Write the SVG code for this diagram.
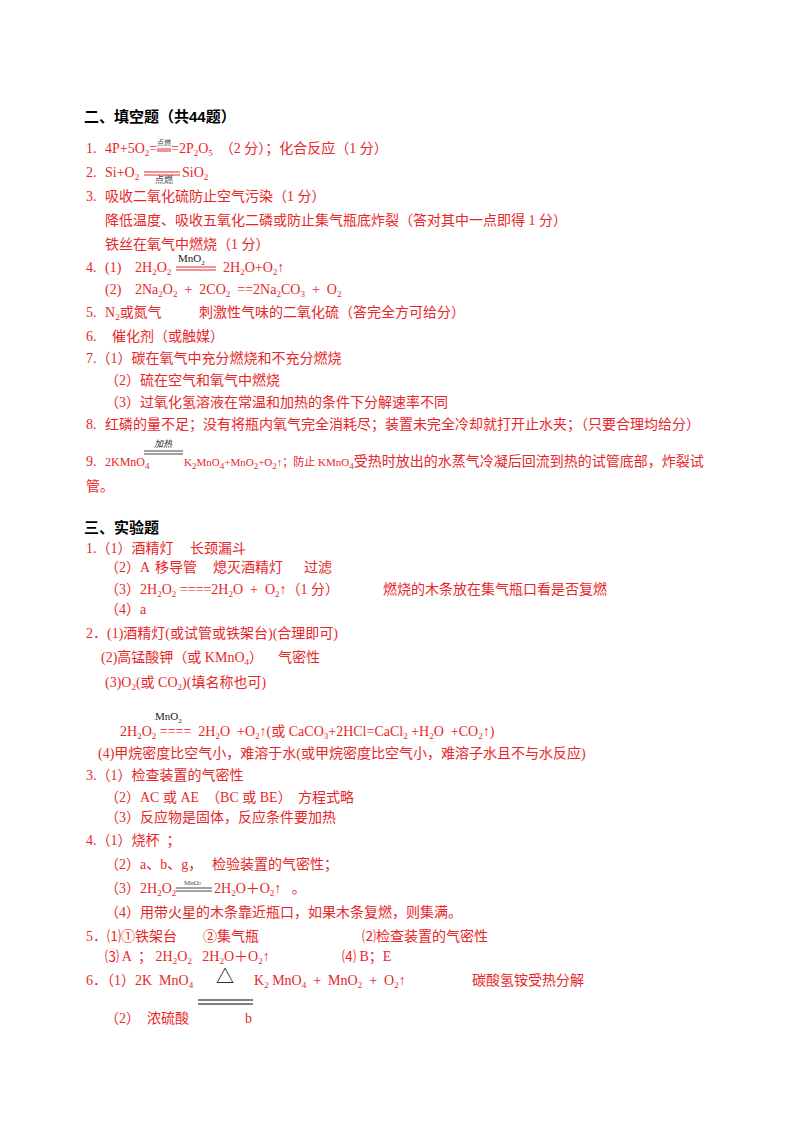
<svg xmlns="http://www.w3.org/2000/svg" width="800" height="1132" viewBox="0 0 800 1132" xml:space="preserve">
<style>
text{font-family:"Liberation Serif","Noto Sans CJK SC",serif;font-size:14px;fill:#e8262a;white-space:pre}
.h{font-family:"Liberation Sans","Noto Sans CJK SC",sans-serif;font-weight:bold;font-size:15px;fill:#000}
.s{font-size:9px;baseline-shift:-3px}
.t{font-size:7px;fill:#444}
.k{fill:#222}
line{stroke:#e8262a;stroke-width:1}
.g{stroke:#444}
</style>
<rect width="800" height="1132" fill="#fff"/>
<g id="sec2">
<text class="h" x="84" y="122">二、填空题（共44题）</text>
<text x="86" y="153">1.</text><text x="105" y="153">4P+5O<tspan class="s">2</tspan>=</text><text x="171" y="153">=2P<tspan class="s">2</tspan>O<tspan class="s">5</tspan>  （2 分）；化合反应（1 分）</text>
<line x1="157" y1="149" x2="171" y2="149"/><line x1="157" y1="151" x2="171" y2="151"/>
<text class="t" x="157" y="145">点燃</text>
<text x="86" y="177">2.</text><text x="105" y="177">Si+O<tspan class="s">2</tspan></text><text x="182" y="177">SiO<tspan class="s">2</tspan></text>
<line x1="144" y1="172" x2="180" y2="172"/><line x1="144" y1="175" x2="180" y2="175"/>
<text class="t" x="155" y="183" style="font-size:9px">点燃</text>
<text x="86" y="201">3.</text><text x="105" y="201">吸收二氧化硫防止空气污染（1 分）</text>
<text x="105" y="225">降低温度、吸收五氧化二磷或防止集气瓶底炸裂（答对其中一点即得 1 分）</text>
<text x="105" y="249">铁丝在氧气中燃烧（1 分）</text>
<text x="86" y="272">4.</text><text x="105" y="272">(1)</text><text x="135" y="272">2H<tspan class="s">2</tspan>O<tspan class="s">2</tspan></text><text x="223" y="272">2H<tspan class="s">2</tspan>O+O<tspan class="s">2</tspan>↑</text>
<text class="k" x="178" y="262" style="font-size:11px">MnO<tspan class="s" style="font-size:7px">2</tspan></text>
<line x1="176" y1="267" x2="216" y2="267"/><line x1="176" y1="270" x2="216" y2="270"/>
<text x="105" y="294">(2)</text><text x="135" y="294">2Na<tspan class="s">2</tspan>O<tspan class="s">2</tspan>  +  2CO<tspan class="s">2</tspan>  ==2Na<tspan class="s">2</tspan>CO<tspan class="s">3</tspan>  +  O<tspan class="s">2</tspan></text>
<text x="86" y="317">5.</text><text x="105" y="317">N<tspan class="s">2</tspan>或氮气</text><text x="199" y="317">刺激性气味的二氧化硫（答完全方可给分）</text>
<text x="86" y="341">6.</text><text x="112" y="341">催化剂（或触媒）</text>
<text x="86" y="363">7.（1）碳在氧气中充分燃烧和不充分燃烧</text>
<text x="105" y="385">（2）硫在空气和氧气中燃烧</text>
<text x="105" y="407">（3）过氧化氢溶液在常温和加热的条件下分解速率不同</text>
<text x="86" y="429">8.</text><text x="105" y="429">红磷的量不足；没有将瓶内氧气完全消耗尽；装置未完全冷却就打开止水夹；（只要合理均给分）</text>
<text x="86" y="466">9.</text><text x="105" y="466" style="font-size:12px">2KMnO<tspan class="s">4</tspan></text><text x="184" y="466" style="font-size:11px">K<tspan class="s">2</tspan>MnO<tspan class="s">4</tspan>+MnO<tspan class="s">2</tspan>+O<tspan class="s">2</tspan>↑；防止 KMnO<tspan class="s">4</tspan><tspan style="font-size:14px">受热时放出的水蒸气冷凝后回流到热的试管底部，炸裂试</tspan></text>
<line x1="144" y1="451" x2="183" y2="451" class="g"/><line x1="144" y1="454" x2="183" y2="454" class="g"/>
<text class="k" x="154" y="447" style="font-size:9px;font-style:italic">加热</text>
<text x="86" y="491">管。</text>
</g>
<g id="sec3">
<text class="h" x="84" y="533">三、实验题</text>
<text x="86" y="553">1.（1）酒精灯</text><text x="190" y="553">长颈漏斗</text>
<text x="105" y="572">（2）A</text><text x="155" y="572">移导管</text><text x="213" y="572">熄灭酒精灯</text><text x="304" y="572">过滤</text>
<text x="105" y="594">（3）2H<tspan class="s">2</tspan>O<tspan class="s">2</tspan> ====2H<tspan class="s">2</tspan>O  +  O<tspan class="s">2</tspan>↑（1 分）</text>
<text x="383" y="594">燃烧的木条放在集气瓶口看是否复燃</text>
<text x="105" y="614">（4）a</text>
<text x="86" y="638">2．(1)酒精灯(或试管或铁架台)(合理即可)</text>
<text x="101" y="662">(2)高锰酸钾（或 KMnO<tspan class="s">4</tspan>）</text><text x="278" y="662">气密性</text>
<text x="105" y="687">(3)O<tspan class="s">2</tspan>(或 CO<tspan class="s">2</tspan>)(填名称也可)</text>
<text class="k" x="155" y="720" style="font-size:11px">MnO<tspan class="s" style="font-size:7px">2</tspan></text>
<text x="120" y="736">2H<tspan class="s">2</tspan>O<tspan class="s">2</tspan> ====  2H<tspan class="s">2</tspan>O  +O<tspan class="s">2</tspan>↑(或 CaCO<tspan class="s">3</tspan>+2HCl=CaCl<tspan class="s">2</tspan> +H<tspan class="s">2</tspan>O  +CO<tspan class="s">2</tspan>↑)</text>
<text x="98" y="758">(4)甲烷密度比空气小，难溶于水(或甲烷密度比空气小，难溶子水且不与水反应)</text>
<text x="86" y="780">3.（1）检查装置的气密性</text>
<text x="105" y="802">（2）AC 或 AE  （BC 或 BE）</text><text x="298" y="802">方程式略</text>
<text x="105" y="822">（3）反应物是固体，反应条件要加热</text>
<text x="86" y="845">4.（1）烧杯  ；</text>
<text x="105" y="869">（2）a、b、g，</text><text x="212" y="869">检验装置的气密性；</text>
<text x="105" y="893">（3）2H<tspan class="s">2</tspan>O<tspan class="s">2</tspan></text><text x="214" y="893">2H<tspan class="s">2</tspan>O＋O<tspan class="s">2</tspan>↑   。</text>
<line x1="176" y1="888" x2="212" y2="888" class="g"/><line x1="176" y1="891" x2="212" y2="891" class="g"/>
<text class="t" x="184" y="885">MnO<tspan style="font-size:5px">2</tspan></text>
<text x="105" y="917">（4）用带火星的木条靠近瓶口，如果木条复燃，则集满。</text>
<text x="86" y="941">5．⑴①铁架台</text><text x="203" y="941">②集气瓶</text>
<text x="362" y="941">⑵检查装置的气密性</text>
<text x="105" y="961">⑶ A  ； 2H<tspan class="s">2</tspan>O<tspan class="s">2</tspan>   2H<tspan class="s">2</tspan>O＋O<tspan class="s">2</tspan>↑</text>
<text x="342" y="961">⑷ B；E</text>
<text x="86" y="985">6．（1）2K  MnO<tspan class="s">4</tspan></text>
<text x="216" y="983" style="font-size:18px;fill:#000">△</text>
<text x="254" y="985">K<tspan class="s">2</tspan> MnO<tspan class="s">4</tspan>  +  MnO<tspan class="s">2</tspan>  +  O<tspan class="s">2</tspan>↑</text>
<text x="472" y="985">碳酸氢铵受热分解</text>
<line x1="198" y1="1000" x2="253" y2="1000" style="stroke:#000"/><line x1="198" y1="1004" x2="253" y2="1004" style="stroke:#000"/>
<text x="105" y="1023">（2）  浓硫酸</text>
<text x="245" y="1023">b</text>
</g>
</svg>
